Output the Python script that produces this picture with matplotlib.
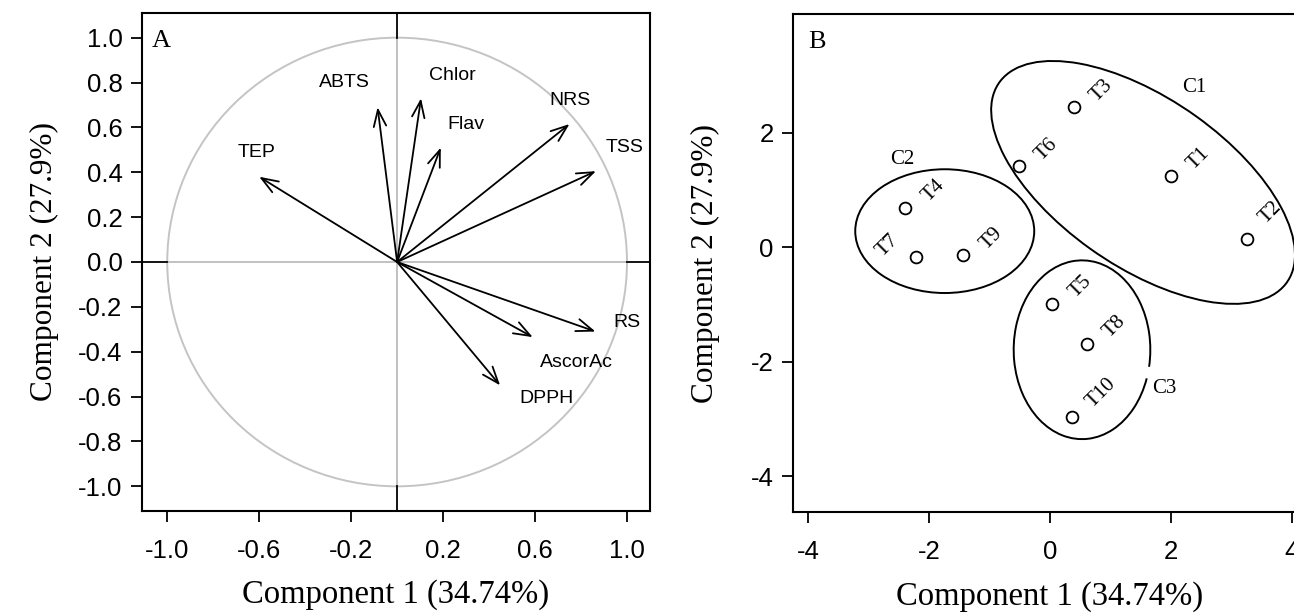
import numpy as np
import matplotlib
matplotlib.use('Agg')
import matplotlib.pyplot as plt
from matplotlib.patches import Ellipse, Arc, Circle

plt.rcParams['axes.unicode_minus'] = False

# loadings (panel A)
variables = ['TEP', 'ABTS', 'Chlor', 'Flav', 'NRS', 'TSS', 'RS', 'AscorAc', 'DPPH']
pc1_load = [-0.60, -0.085, 0.104, 0.19, 0.75, 0.865, 0.863, 0.59, 0.448]
pc2_load = [0.38, 0.69, 0.73, 0.51, 0.615, 0.405, -0.31, -0.335, -0.55]
label_x = [-0.61, -0.23, 0.24, 0.30, 0.75, 0.99, 1.00, 0.78, 0.65]
label_y = [0.49, 0.80, 0.83, 0.615, 0.72, 0.51, -0.27, -0.45, -0.61]

# scores (panel B)
treatments = ['T1', 'T2', 'T3', 'T4', 'T5', 'T6', 'T7', 'T8', 'T9', 'T10']
pc1_score = [2.00, 3.26, 0.39, -2.39, 0.04, -0.51, -2.21, 0.61, -1.43, 0.36]
pc2_score = [1.24, 0.14, 2.44, 0.69, -0.99, 1.41, -0.18, -1.69, -0.14, -2.96]

# clusters: centre, width, height, angle, label position
clusters = ['C1', 'C2', 'C3']
clus_cx = [1.54, -1.74, 0.53]
clus_cy = [1.13, 0.28, -1.79]
clus_w = [5.9, 2.96, 2.26]
clus_h = [2.90, 2.16, 3.12]
clus_ang = [-37, 0, 0]
clus_lx = [2.38, -2.45, 1.89]
clus_ly = [2.78, 1.53, -2.47]

xlab = 'Component 1 (34.74%)'
ylab = 'Component 2 (27.9%)'

sans = 'Liberation Sans'
serif = 'Liberation Serif'

fig = plt.figure(figsize=(12.94, 6.13), dpi=100)

# ---- panel A ----
axA = fig.add_axes([0.1097, 0.1664, 0.3926, 0.8124])
axA.set_xlim(-1.11, 1.10)
axA.set_ylim(-1.11, 1.11)

axA.add_patch(Circle((0, 0), 1, fill=False, color='#c4c4c4', lw=1.4))
axA.plot([-1, 1], [0, 0], color='#b0b0b0', lw=1.1)
axA.plot([0, 0], [-1, 1], color='#b0b0b0', lw=1.1)
axA.plot([-1.2, -1], [0, 0], color='black', lw=1.3)
axA.plot([1, 1.2], [0, 0], color='black', lw=1.3)
axA.plot([0, 0], [1, 1.2], color='black', lw=1.3)
axA.plot([0, 0], [-1.2, -1], color='black', lw=1.3)

for i, v in enumerate(variables):
    axA.annotate('', xy=(pc1_load[i], pc2_load[i]), xytext=(0, 0),
                 arrowprops=dict(arrowstyle='->,head_length=1.2,head_width=0.45',
                                 color='black', lw=1.3, shrinkA=0, shrinkB=0))
    axA.text(label_x[i], label_y[i], v, ha='center', va='center',
             fontsize=14, family=sans)

axA.set_xticks([-1.0, -0.6, -0.2, 0.2, 0.6, 1.0])
axA.set_xticklabels(['-1.0', '-0.6', '-0.2', '0.2', '0.6', '1.0'])
yt = [-1.0, -0.8, -0.6, -0.4, -0.2, 0.0, 0.2, 0.4, 0.6, 0.8, 1.0]
axA.set_yticks(yt)
axA.set_yticklabels(['%.1f' % t if t != 0 else '0.0' for t in yt])
axA.text(0.02, 0.965, 'A', transform=axA.transAxes, ha='left', va='top',
         fontsize=19, family=serif)

# ---- panel B ----
axB = fig.add_axes([0.6128, 0.1640, 0.3972, 0.8132])
axB.set_xlim(-4.25, 4.25)
axB.set_ylim(-4.63, 4.07)

axB.plot(pc1_score, pc2_score, 'o', mfc='none', mec='black', ms=8.5, mew=1.3)
offsets = {'T7': (-29, 12), 'T2': (24, 27), 'T10': (30, 24)}
for i, t in enumerate(treatments):
    off = offsets.get(t, (28, 17))
    axB.annotate(t, (pc1_score[i], pc2_score[i]), xytext=off,
                 textcoords='offset pixels', ha='center', va='center',
                 rotation=45, fontsize=15, family=serif)

for i, c in enumerate(clusters):
    if c == 'C3':
        axB.add_patch(Arc((clus_cx[i], clus_cy[i]), clus_w[i], clus_h[i],
                          angle=clus_ang[i], theta1=-15, theta2=335,
                          color='black', lw=1.4))
    else:
        axB.add_patch(Ellipse((clus_cx[i], clus_cy[i]), clus_w[i], clus_h[i],
                              angle=clus_ang[i], fill=False, color='black', lw=1.4))
    axB.text(clus_lx[i], clus_ly[i], c, ha='center', va='center',
             fontsize=15, family=serif)

axB.set_xticks([-4, -2, 0, 2, 4])
axB.set_yticks([-4, -2, 0, 2])
axB.text(0.03, 0.965, 'B', transform=axB.transAxes, ha='left', va='top',
         fontsize=19, family=serif)

for ax in (axA, axB):
    ax.tick_params(direction='out', length=8, width=1.3, labelsize=18.5, pad=6)
    for lab in ax.get_xticklabels() + ax.get_yticklabels():
        lab.set_family(sans)
    for s in ax.spines.values():
        s.set_linewidth(1.5)
    ax.tick_params(axis='x', pad=12)
    ax.set_xlabel(xlab, fontsize=23.5, family=serif, labelpad=12)
axA.set_ylabel(ylab, fontsize=22.5, family=serif, labelpad=14)
axB.set_ylabel(ylab, fontsize=22.5, family=serif, labelpad=22)

fig.savefig('out.png', dpi=100)
